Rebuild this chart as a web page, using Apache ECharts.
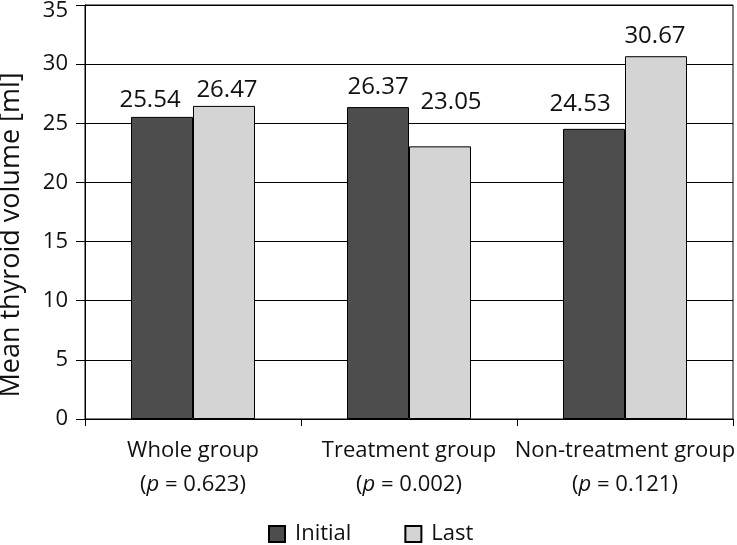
<!DOCTYPE html>
<html><head><meta charset="utf-8">
<script src="https://cdn.jsdelivr.net/npm/echarts@6/dist/echarts.min.js"></script>
<style>html,body{margin:0;padding:0;background:#fff}#c{width:737px;height:545px}</style>
</head><body><div id="c"></div>
<script>
var categories = ['Whole group', 'Treatment group', 'Non-treatment group'];
var pValues = ['0.623', '0.002', '0.121'];
var initialValues = [25.54, 26.37, 24.53];
var lastValues = [26.47, 23.05, 30.67];
var seriesNames = ['Initial', 'Last'];
var yTicks = {min: 0, max: 35, interval: 5};

// label nudges (px) as in the original layout
var initialLabelNudge = [[-12, -2], [0, -5], [-14, -10]];
var lastLabelNudge = [[3, -1], [11, -29], [-1, -5]];

var FONT = '"Open Sans", "Noto Sans", sans-serif';
var chart = echarts.init(document.getElementById('c'));
var labelStyle = {show: true, position: 'top', color: '#111', fontSize: 24, fontFamily: FONT, distance: 3,
  formatter: function(p){ return p.value.toFixed(2); }};
function withNudge(values, nudges){
  return values.map(function(v, i){ return {value: v, label: {offset: nudges[i]}}; });
}
chart.setOption({
  animation: false,
  grid: {left: 85, right: 4, top: 5, bottom: 126, show: true, borderColor: '#000', borderWidth: 1,
    containLabel: false, outerBoundsMode: 'none'},
  legend: {left: 268, top: 523, padding: 0, itemWidth: 16, itemHeight: 16, itemGap: 53, icon: 'rect',
    textStyle: {fontSize: 22, fontFamily: FONT, color: '#111', padding: [0, 0, 0, 5]}, data: seriesNames},
  xAxis: {type: 'category', data: categories,
    axisLine: {lineStyle: {color: '#000', width: 1}},
    axisTick: {show: true, length: 7, lineStyle: {color: '#000'}},
    axisLabel: {margin: 15, interval: 0,
      formatter: function(v, i){ return '{a|' + v + '}\n{a|(}{i|p}{a| = ' + pValues[i] + ')}'; },
      rich: {a: {fontSize: 22, fontFamily: FONT, color: '#111', lineHeight: 34},
             i: {fontSize: 22, fontFamily: FONT, color: '#111', fontStyle: 'italic', lineHeight: 34}}}
  },
  yAxis: {type: 'value', min: yTicks.min, max: yTicks.max, interval: yTicks.interval,
    name: 'Mean thyroid volume [ml]', nameLocation: 'middle', nameGap: 60,
    nameTextStyle: {fontSize: 27, fontFamily: FONT, color: '#111', padding: [0, 46, 0, 0]},
    axisLine: {show: true, lineStyle: {color: '#000'}},
    axisTick: {show: true, length: 9, lineStyle: {color: '#000'}},
    axisLabel: {fontSize: 22, fontFamily: FONT, color: '#111', margin: 17,
      formatter: function(v){ return v === yTicks.max ? '{m|' + v + '}' : '{n|' + v + '}'; },
      rich: {m: {fontSize: 22, fontFamily: FONT, color: '#111', padding: [11, 0, 0, 0]},
             n: {fontSize: 22, fontFamily: FONT, color: '#111'}}},
    splitLine: {show: true, lineStyle: {color: '#000', width: 1}}
  },
  series: [
    {name: seriesNames[0], type: 'bar', data: withNudge(initialValues, initialLabelNudge), barGap: '0%', barCategoryGap: '42.6%',
     itemStyle: {color: '#4d4d4d', borderColor: '#000', borderWidth: 1}, label: labelStyle},
    {name: seriesNames[1], type: 'bar', data: withNudge(lastValues, lastLabelNudge),
     itemStyle: {color: '#d4d4d4', borderColor: '#000', borderWidth: 1}, label: labelStyle}
  ]
});
</script></body></html>
